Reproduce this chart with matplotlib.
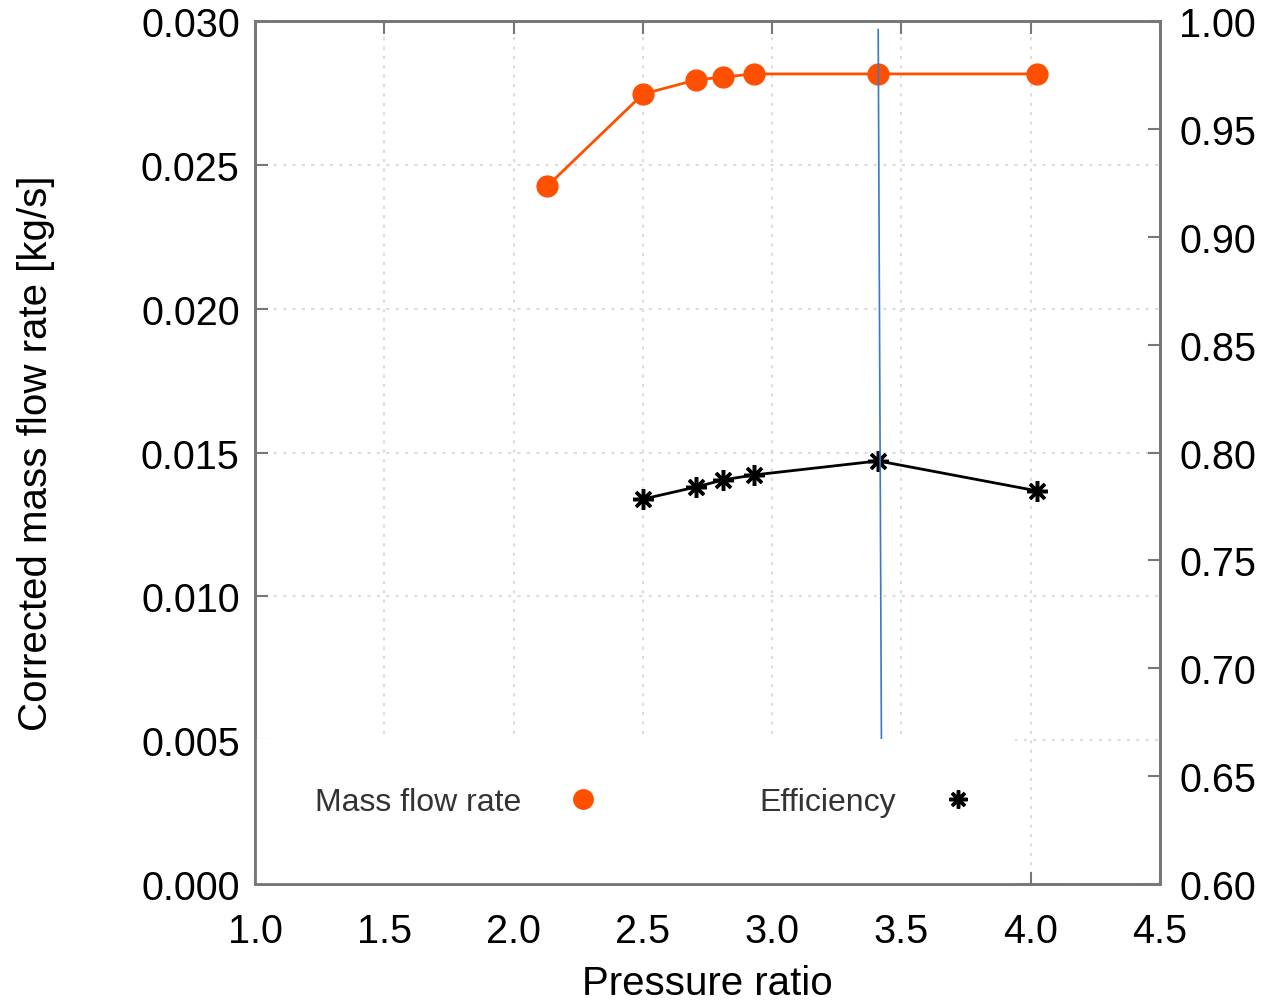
import matplotlib.pyplot as plt
from matplotlib.lines import Line2D
from matplotlib.patches import Rectangle

plt.rcParams['font.family'] = ['Liberation Sans', 'DejaVu Sans']

# mass flow rate vs pressure ratio
pr_mass = [2.13, 2.50, 2.705, 2.81, 2.93, 3.41, 4.025]
mass_flow = [0.02426, 0.02746, 0.02795, 0.02805, 0.02816, 0.02816, 0.02816]

# efficiency vs pressure ratio
pr_eff = [2.50, 2.705, 2.81, 2.93, 3.41, 4.025]
efficiency = [0.7784, 0.7840, 0.7873, 0.7896, 0.7961, 0.7822]

# vertical marker line (slightly tilted in the original)
vline_x = [3.41, 3.425]
vline_y = [0.0297, 0.0]

orange = '#ff5000'
spine_col = '#777777'

fig = plt.figure(figsize=(12.62, 10.04), dpi=100)
ax = fig.add_axes([0.2021, 0.1185, 0.9192 - 0.2021, 0.9781 - 0.1185])
ax2 = ax.twinx()

ax.set_xlim(1.0, 4.5)
ax.set_ylim(0.0, 0.030)
ax2.set_ylim(0.60, 1.00)
ax.set_xticks([1.0, 1.5, 2.0, 2.5, 3.0, 3.5, 4.0, 4.5])
ax.set_yticks([0.000, 0.005, 0.010, 0.015, 0.020, 0.025, 0.030])
ax2.set_yticks([0.60, 0.65, 0.70, 0.75, 0.80, 0.85, 0.90, 0.95, 1.00])
ax.xaxis.set_major_formatter(plt.FormatStrFormatter('%.1f'))
ax.yaxis.set_major_formatter(plt.FormatStrFormatter('%.3f'))
ax2.yaxis.set_major_formatter(plt.FormatStrFormatter('%.2f'))

ax.grid(True, linestyle=(0, (1.5, 3)), color='#dcdcdc', linewidth=1.5)
for a in (ax, ax2):
    for s in a.spines.values():
        s.set_color(spine_col)
        s.set_linewidth(2)
        s.set_zorder(10)
ax.tick_params(axis='x', direction='in', length=9, width=1.5, color=spine_col,
               labelsize=28.5, top=True, pad=20)
ax.tick_params(axis='y', direction='in', length=9, width=1.5, color=spine_col,
               labelsize=28.5, pad=11)
ax2.tick_params(direction='in', length=9, width=1.5, color=spine_col,
                labelsize=28.5, pad=14)

ax.plot(pr_mass, mass_flow, color=orange, linewidth=2, marker='o',
        markersize=15, zorder=3)
ax2.plot(pr_eff, efficiency, color='black', linewidth=2, marker=(8, 2, 0),
         markersize=15, markeredgewidth=2.5, zorder=3)
ax2.plot(vline_x, vline_y, color='#3a78c8', linewidth=1.2,
         transform=ax.transData, zorder=4)

# opaque key box (hides grid and line behind the key, as in the original)
ax2.add_patch(Rectangle((0, 0), 0.84, 0.168, transform=ax2.transAxes,
                        facecolor='white', edgecolor='none', zorder=5))

ax.set_xlabel('Pressure ratio', fontsize=29, labelpad=10)
ax.set_ylabel('Corrected mass flow rate [kg/s]', fontsize=29, labelpad=62)

handles = [
    Line2D([], [], color=orange, marker='o', linestyle='none', markersize=14),
    Line2D([], [], color='black', marker=(8, 2, 0), linestyle='none',
           markersize=13, markeredgewidth=2.5),
]
leg = ax2.legend(handles, ['Mass flow rate', 'Efficiency'], ncol=2,
                 markerfirst=False, loc='center left',
                 bbox_to_anchor=(0.066, 0.095), fontsize=23,
                 columnspacing=5.0, handletextpad=1.45, handlelength=1.0,
                 frameon=False, borderpad=0, borderaxespad=0)
leg.set_zorder(6)
for t in leg.get_texts():
    t.set_color('#333333')

fig.savefig('out.png', dpi=100)
